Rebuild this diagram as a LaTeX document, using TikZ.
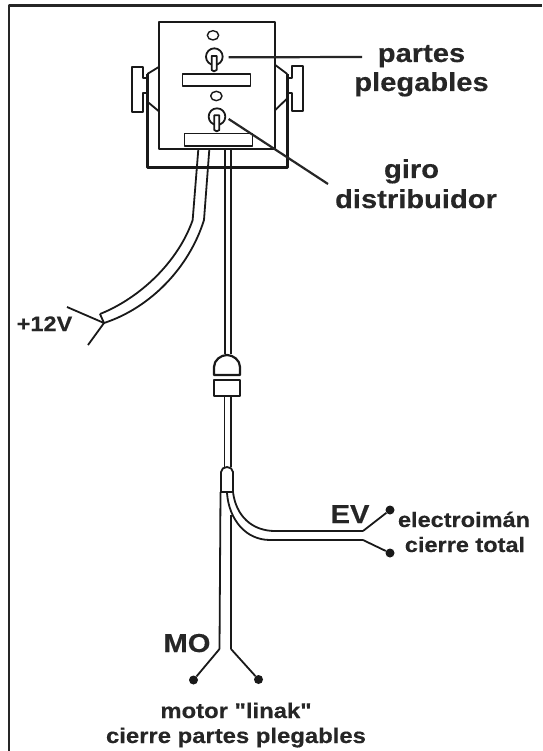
\documentclass[tikz,border=0pt]{standalone}
\usepackage{fontspec}
\newfontfamily\labf[UprightFont=* Bold,FakeStretch=1.12,FakeBold=0.35,Ligatures=NoCommon]{Liberation Sans}
\tikzset{
 thin line/.style={line width=1.4pt,black!90,line join=round},
 mid line/.style={line width=1.8pt,black!90,line join=round},
 heavy line/.style={line width=2.6pt,black!85,line join=round},
 lab/.style={anchor=base,inner sep=0pt,text=black!85},
 termdot/.style={circle,fill=black!90,inner sep=0pt,minimum size=9pt}
}
\begin{document}
\begin{tikzpicture}[x=1pt,y=-1pt]
\useasboundingbox (0,0) rectangle (542,751);
\fill[white] (0,0) rectangle (542,751);
% frame
\draw[heavy line] (9,751) -- (9,5.5) -- (542,5.5);
% switch box (zoom coordinates)
\begin{scope}[shift={(90,0)},x=0.3333pt,y=-0.3333pt]
 \draw[mid line,line width=2.8pt] (172,222) -- (172,503) -- (592,503) -- (592,222);
 \draw[mid line] (172,222) -- (208,200) (172,305) -- (208,335);
 \draw[mid line] (592,222) -- (556,195) (592,295) -- (556,330);
 \draw[mid line] (172,235) -- (158,235) -- (158,200) -- (127,200) -- (127,335) -- (158,335) -- (158,280) -- (172,280);
 \draw[mid line] (592,235) -- (607,235) -- (607,198) -- (639,198) -- (639,332) -- (607,332) -- (607,278) -- (592,278);
 \draw[mid line,fill=white] (208,65) rectangle (556,448);
 \draw[thin line] (278,222) rectangle (482,258);
 \draw[thin line] (283,401) rectangle (488,438);
 \draw[thin line] (369,106) ellipse [x radius=17,y radius=14];
 \draw[thin line] (379,288) ellipse [x radius=17,y radius=14];
 \draw[mid line] (373,170) circle [radius=25];
 \draw[mid line] (381,350) circle [radius=25];
 \draw[mid line,fill=white] (365,168) -- (365,210) -- (372,214) -- (380,210) -- (380,168) -- cycle;
 \draw[mid line,fill=white] (373,346) -- (373,390) -- (380,394) -- (388,390) -- (388,346) -- cycle;
 \coordinate (leadA) at (416,172);
 \coordinate (leadB) at (416,357);
 % power cable
 \draw[mid line] (325,448) -- (308,660);
 \draw[mid line] (358,448) -- (342,660);
 % centre cable
 \draw[mid line,line width=2.2pt] (405,448) -- (405,1062);
 \draw[mid line] (422,448) -- (422,1062);
\end{scope}
% power cable, lower part
\draw[mid line] (192.7,220) .. controls (178,262) and (140,298) .. (100,314);
\draw[mid line] (204,220) .. controls (189,268) and (150,308) .. (104,323);
\draw[mid line] (100,314) -- (104,323);
\coordinate (pw) at (104,323);
\coordinate (pa) at (67,307);
\coordinate (pb) at (88,345);
\draw[mid line] (pa) -- (pw) -- (pb);
% connector plug
\draw[mid line,line width=2.2pt,fill=white] (214,375) -- (214,367) .. controls (214,360) and (221,355) .. (227,355) .. controls (233,355) and (240,360) .. (240,367) -- (240,375) -- cycle;
\draw[mid line,line width=2.2pt,fill=white] (214,380) rectangle (240,396);
\draw[mid line] (224.5,396) -- (224.5,467);
\draw[mid line] (231,396) -- (231,467);
% sleeve and branch
\draw[mid line] (221,492) -- (221,472) .. controls (221,469) and (224,467) .. (227,467) .. controls (230,467) and (233,469) .. (233,472) -- (233,492) -- cycle;
\draw[mid line] (220.5,492) -- (219.5,649);
\draw[mid line] (231,515) -- (231,649);
\draw[mid line] (233,492) .. controls (236,516) and (252,531) .. (275,531) -- (363,531);
\draw[mid line] (227,493) .. controls (229,520) and (246,540) .. (270,540) -- (363,540);
\node[termdot] (d1) at (390,510) {};
\node[termdot] (d2) at (390,553) {};
\node[termdot] (d3) at (193.5,680) {};
\node[termdot] (d4) at (258.5,679.5) {};
\coordinate (j1) at (363,531);
\coordinate (j2) at (363,540);
\coordinate (j3) at (219.5,649);
\coordinate (j4) at (231,649);
\draw[mid line] (j1) -- (d1);
\draw[mid line] (j2) -- (d2);
\draw[mid line] (j3) -- (d3);
\draw[mid line] (j4) -- (d4);
% labels
\node[lab,font=\labf\fontsize{26}{30}\selectfont] (parts) at (421.5,62) {partes};
\node[lab,font=\labf\fontsize{26}{30}\selectfont] (pleg) at (421.5,91) {plegables};
\node[lab,font=\labf\fontsize{26}{30}\selectfont] (giro) at (411.5,178) {giro};
\node[lab,font=\labf\fontsize{26}{30}\selectfont] (dist) at (416,208) {distribuidor};
\node[lab,font=\labf\fontsize{21}{24}\selectfont] (v12) at (44.5,331) {+12V};
\node[lab,font=\labf\fontsize{26}{30}\selectfont] (ev) at (350,523) {EV};
\node[lab,font=\labf\fontsize{26}{30}\selectfont] (mo) at (187,652) {MO};
\node[lab,font=\labf\fontsize{21}{25}\selectfont] (em) at (464,527) {electroimán};
\node[lab,font=\labf\fontsize{21}{25}\selectfont] (ct) at (465,552) {cierre total};
\node[lab,font=\labf\fontsize{21.3}{25}\selectfont] (mt) at (236,718) {motor "linak"};
\node[lab,font=\labf\fontsize{21.3}{25}\selectfont] (cp) at (236,743) {cierre partes plegables};
% leaders
\coordinate (la) at (362,57);
\coordinate (lb) at (328,184);
\draw[heavy line,line width=2.2pt] (leadA) -- (la);
\draw[heavy line,line width=2.2pt] (leadB) -- (lb);
\end{tikzpicture}
\end{document}
